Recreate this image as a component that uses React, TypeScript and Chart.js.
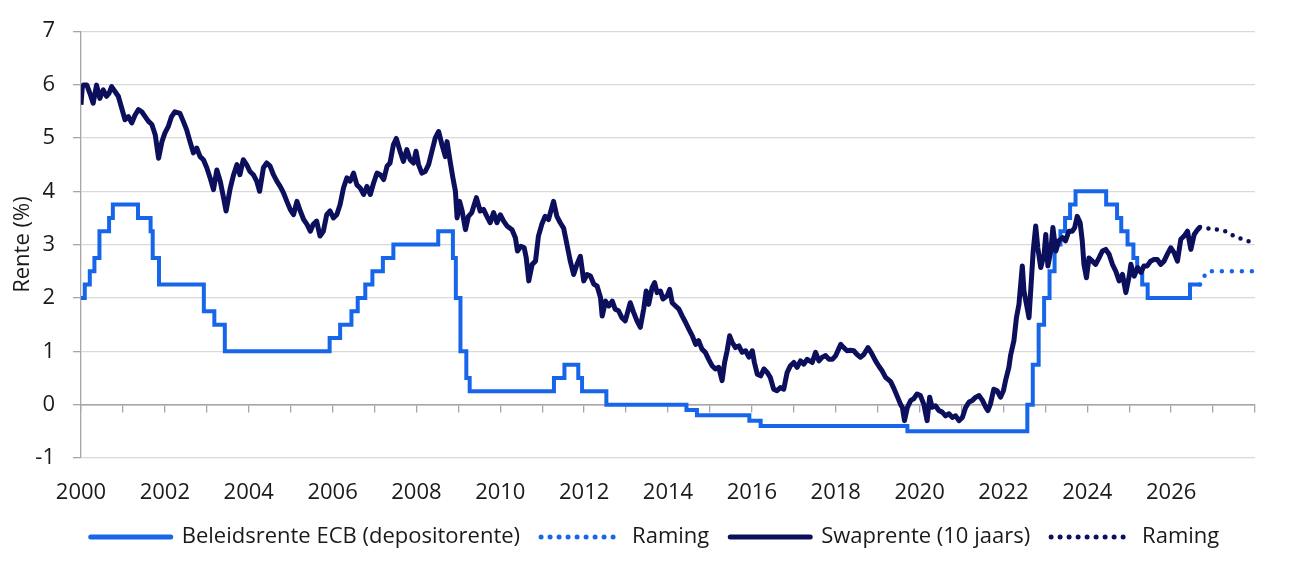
import React, { useEffect, useRef } from 'react';
import { Chart, registerables } from 'chart.js';

Chart.register(...registerables);

// ---------- data ----------
const xMin = 2000;
const xMax = 2028;
const yMin = -1;
const yMax = 7;
const labelYears = [2000, 2002, 2004, 2006, 2008, 2010, 2012, 2014, 2016, 2018, 2020, 2022, 2024, 2026];

// ECB deposit rate: date of change (decimal year) and new level (%)
const ecbDates = [
  2000.00, 2000.09, 2000.21, 2000.32, 2000.44, 2000.67, 2000.76, 2001.36, 2001.66, 2001.71,
  2001.86, 2002.93, 2003.18, 2003.43, 2005.93, 2006.18, 2006.45, 2006.60, 2006.78, 2006.95,
  2007.20, 2007.45, 2008.52, 2008.87, 2008.94, 2009.05, 2009.19, 2009.27, 2011.28, 2011.53,
  2011.86, 2011.95, 2012.53, 2014.44, 2014.69, 2015.94, 2016.21, 2019.71, 2022.57, 2022.70,
  2022.84, 2022.97, 2023.10, 2023.22, 2023.36, 2023.47, 2023.59, 2023.72, 2024.45, 2024.71,
  2024.81, 2024.96, 2025.10, 2025.19, 2025.31, 2025.44, 2026.45, 2026.69,
];
const ecbRates = [
  2.00, 2.25, 2.50, 2.75, 3.25, 3.50, 3.75, 3.50, 3.25, 2.75,
  2.25, 1.75, 1.50, 1.00, 1.25, 1.50, 1.75, 2.00, 2.25, 2.50,
  2.75, 3.00, 3.25, 2.75, 2.00, 1.00, 0.50, 0.25, 0.50, 0.75,
  0.50, 0.25, 0.00, -0.10, -0.20, -0.30, -0.40, -0.50, 0.00, 0.75,
  1.50, 2.00, 2.50, 3.00, 3.25, 3.50, 3.75, 4.00, 3.75, 3.50,
  3.25, 3.00, 2.75, 2.50, 2.25, 2.00, 2.25, 2.25,
];
const ecbForecastDates = [2026.69, 2026.85, 2028.0];
const ecbForecastRates = [2.25, 2.5, 2.5];

// 10-year swap rate (%)
const swapDates = [
  2000.00, 2000.03, 2000.06, 2000.14, 2000.21, 2000.29, 2000.37, 2000.45, 2000.53, 2000.61,
  2000.67, 2000.73, 2000.81, 2000.89, 2000.97, 2001.05, 2001.13, 2001.21, 2001.29, 2001.37,
  2001.45, 2001.53, 2001.61, 2001.69, 2001.77, 2001.85, 2001.93, 2002.00, 2002.08, 2002.16,
  2002.24, 2002.36, 2002.44, 2002.52, 2002.60, 2002.68, 2002.76, 2002.84, 2002.92, 2003.00,
  2003.08, 2003.16, 2003.24, 2003.32, 2003.40, 2003.46, 2003.56, 2003.64, 2003.72, 2003.79,
  2003.87, 2003.95, 2004.03, 2004.11, 2004.19, 2004.26, 2004.35, 2004.43, 2004.51, 2004.59,
  2004.67, 2004.75, 2004.83, 2004.91, 2004.99, 2005.07, 2005.15, 2005.23, 2005.31, 2005.39,
  2005.47, 2005.54, 2005.62, 2005.70, 2005.78, 2005.86, 2005.94, 2006.02, 2006.10, 2006.18,
  2006.26, 2006.34, 2006.42, 2006.50, 2006.58, 2006.66, 2006.74, 2006.82, 2006.90, 2006.98,
  2007.06, 2007.14, 2007.22, 2007.30, 2007.37, 2007.45, 2007.52, 2007.61, 2007.69, 2007.77,
  2007.85, 2007.93, 2007.99, 2008.05, 2008.13, 2008.21, 2008.29, 2008.37, 2008.45, 2008.53,
  2008.61, 2008.69, 2008.73, 2008.81, 2008.87, 2008.93, 2008.97, 2009.03, 2009.09, 2009.17,
  2009.24, 2009.32, 2009.43, 2009.52, 2009.60, 2009.68, 2009.76, 2009.84, 2009.92, 2010.00,
  2010.08, 2010.16, 2010.28, 2010.36, 2010.41, 2010.49, 2010.57, 2010.62, 2010.68, 2010.76,
  2010.84, 2010.91, 2010.99, 2011.07, 2011.15, 2011.27, 2011.35, 2011.43, 2011.51, 2011.59,
  2011.67, 2011.75, 2011.83, 2011.91, 2011.99, 2012.07, 2012.15, 2012.23, 2012.31, 2012.39,
  2012.43, 2012.51, 2012.59, 2012.67, 2012.74, 2012.82, 2012.90, 2012.98, 2013.10, 2013.18,
  2013.26, 2013.34, 2013.42, 2013.48, 2013.54, 2013.62, 2013.68, 2013.74, 2013.82, 2013.88,
  2013.98, 2014.04, 2014.10, 2014.18, 2014.26, 2014.34, 2014.42, 2014.50, 2014.58, 2014.66,
  2014.73, 2014.81, 2014.89, 2014.97, 2015.05, 2015.13, 2015.21, 2015.29, 2015.35, 2015.41,
  2015.47, 2015.53, 2015.61, 2015.69, 2015.77, 2015.85, 2015.93, 2016.01, 2016.06, 2016.13,
  2016.21, 2016.29, 2016.37, 2016.44, 2016.52, 2016.60, 2016.68, 2016.76, 2016.84, 2016.92,
  2017.00, 2017.08, 2017.16, 2017.24, 2017.32, 2017.44, 2017.52, 2017.60, 2017.68, 2017.76,
  2017.84, 2017.92, 2018.00, 2018.12, 2018.19, 2018.27, 2018.35, 2018.43, 2018.51, 2018.59,
  2018.67, 2018.77, 2018.85, 2018.95, 2019.03, 2019.11, 2019.19, 2019.31, 2019.39, 2019.47,
  2019.55, 2019.59, 2019.64, 2019.71, 2019.79, 2019.86, 2019.94, 2020.02, 2020.10, 2020.18,
  2020.24, 2020.30, 2020.38, 2020.46, 2020.54, 2020.62, 2020.70, 2020.78, 2020.86, 2020.94,
  2021.02, 2021.10, 2021.18, 2021.26, 2021.34, 2021.42, 2021.50, 2021.58, 2021.63, 2021.69,
  2021.77, 2021.85, 2021.93, 2022.00, 2022.05, 2022.13, 2022.17, 2022.25, 2022.31, 2022.37,
  2022.45, 2022.49, 2022.55, 2022.61, 2022.65, 2022.71, 2022.77, 2022.82, 2022.89, 2022.97,
  2023.01, 2023.06, 2023.13, 2023.18, 2023.25, 2023.32, 2023.41, 2023.48, 2023.56, 2023.64,
  2023.70, 2023.76, 2023.83, 2023.88, 2023.92, 2023.98, 2024.04, 2024.12, 2024.20, 2024.28,
  2024.36, 2024.44, 2024.52, 2024.60, 2024.68, 2024.76, 2024.84, 2024.92, 2025.00, 2025.04,
  2025.12, 2025.20, 2025.28, 2025.35, 2025.43, 2025.51, 2025.59, 2025.67, 2025.75, 2025.83,
  2025.91, 2025.99, 2026.07, 2026.15, 2026.23, 2026.31, 2026.39, 2026.47, 2026.55, 2026.63,
  2026.69,
];
const swapRates = [
  5.62, 5.95, 5.99, 5.99, 5.84, 5.65, 5.99, 5.74, 5.90, 5.78,
  5.84, 5.96, 5.87, 5.78, 5.56, 5.34, 5.40, 5.28, 5.43, 5.53,
  5.49, 5.40, 5.31, 5.25, 5.06, 4.62, 4.93, 5.09, 5.21, 5.40,
  5.49, 5.46, 5.31, 5.15, 4.93, 4.72, 4.81, 4.65, 4.59, 4.44,
  4.25, 4.03, 4.40, 4.19, 3.88, 3.63, 4.06, 4.31, 4.50, 4.31,
  4.59, 4.50, 4.37, 4.31, 4.19, 4.00, 4.44, 4.53, 4.47, 4.31,
  4.19, 4.09, 3.97, 3.81, 3.66, 3.56, 3.81, 3.63, 3.47, 3.38,
  3.25, 3.38, 3.44, 3.16, 3.25, 3.56, 3.63, 3.50, 3.56, 3.75,
  4.06, 4.25, 4.19, 4.34, 4.12, 4.06, 3.94, 4.09, 3.94, 4.16,
  4.34, 4.31, 4.22, 4.47, 4.53, 4.87, 4.99, 4.75, 4.56, 4.78,
  4.59, 4.53, 4.75, 4.50, 4.34, 4.37, 4.50, 4.75, 5.00, 5.12,
  4.87, 4.65, 4.93, 4.53, 4.25, 4.00, 3.50, 3.81, 3.63, 3.28,
  3.53, 3.60, 3.88, 3.63, 3.66, 3.53, 3.41, 3.60, 3.41, 3.56,
  3.44, 3.35, 3.28, 3.13, 2.88, 2.97, 2.94, 2.75, 2.32, 2.63,
  2.69, 3.16, 3.38, 3.53, 3.47, 3.81, 3.53, 3.41, 3.31, 3.00,
  2.69, 2.44, 2.63, 2.78, 2.32, 2.44, 2.41, 2.26, 2.22, 2.01,
  1.66, 1.94, 1.85, 1.94, 1.79, 1.76, 1.63, 1.57, 1.91, 1.73,
  1.57, 1.45, 1.79, 2.13, 1.88, 2.19, 2.29, 2.10, 2.13, 1.98,
  2.04, 2.16, 1.91, 1.85, 1.79, 1.66, 1.54, 1.41, 1.29, 1.13,
  1.20, 1.04, 0.98, 0.85, 0.73, 0.67, 0.70, 0.45, 0.79, 1.01,
  1.29, 1.17, 1.07, 1.10, 0.98, 1.01, 0.89, 1.01, 0.79, 0.57,
  0.54, 0.67, 0.60, 0.51, 0.29, 0.26, 0.32, 0.29, 0.60, 0.73,
  0.79, 0.70, 0.82, 0.76, 0.85, 0.79, 0.98, 0.82, 0.89, 0.92,
  0.85, 0.85, 0.92, 1.13, 1.07, 1.01, 1.02, 1.01, 0.94, 0.89,
  0.94, 1.07, 0.97, 0.82, 0.72, 0.63, 0.51, 0.43, 0.30, 0.15,
  0.00, -0.05, -0.30, -0.05, 0.08, 0.11, 0.20, 0.17, 0.01, -0.30,
  0.14, -0.05, -0.02, -0.11, -0.14, -0.21, -0.17, -0.24, -0.21, -0.30,
  -0.24, -0.05, 0.05, 0.08, 0.14, 0.17, 0.08, -0.05, -0.11, 0.01,
  0.29, 0.26, 0.14, 0.26, 0.45, 0.70, 0.92, 1.20, 1.63, 1.88,
  2.60, 2.13, 1.88, 1.63, 2.13, 2.88, 3.35, 2.94, 2.57, 2.82,
  3.19, 2.60, 2.88, 3.32, 2.88, 3.07, 3.13, 3.07, 3.25, 3.25,
  3.32, 3.53, 3.41, 3.07, 2.63, 2.38, 2.75, 2.69, 2.63, 2.75,
  2.88, 2.91, 2.82, 2.63, 2.50, 2.32, 2.44, 2.10, 2.41, 2.63,
  2.41, 2.57, 2.48, 2.60, 2.60, 2.69, 2.72, 2.72, 2.63, 2.69,
  2.82, 2.94, 2.85, 2.69, 3.10, 3.16, 3.25, 2.91, 3.19, 3.28,
  3.33,
];
const swapForecastDates = [2026.69, 2026.91, 2027.10, 2027.30, 2027.50, 2027.70, 2027.90, 2028.0];
const swapForecastRates = [3.33, 3.30, 3.28, 3.25, 3.16, 3.10, 3.05, 3.03];

const legendTexts = ['Beleidsrente ECB (depositorente)', 'Raming', 'Swaprente (10 jaars)', 'Raming'];
const yTitle = 'Rente (%)';

// ---------- styles ----------
const BLUE = '#1766ea';
const NAVY = '#0b0f5c';
const TEXT = '#1a1a1a';
const GRID = '#d9d9d9';
const AXIS = '#a6a6a6';
const FONT = "'Open Sans', 'Noto Sans', sans-serif";
const FONT_SIZE = 22;

const toPoints = (xs: number[], ys: number[]) => xs.map((x, i) => ({ x, y: ys[i] }));

export default function App() {
  const canvasRef = useRef<HTMLCanvasElement | null>(null);

  useEffect(() => {
    if (!canvasRef.current) return;
    Chart.defaults.font.family = FONT;
    const legendColors = [BLUE, BLUE, NAVY, NAVY];
    const legendDashes: number[][] = [[], [0, 9], [], [0, 9]];

    const chart = new Chart(canvasRef.current, {
      type: 'line',
      data: {
        datasets: [
          {
            label: legendTexts[2],
            data: toPoints(swapDates, swapRates),
            borderColor: NAVY,
            borderWidth: 5,
            pointRadius: 0,
            borderJoinStyle: 'round',
            tension: 0,
            order: 0,
          },
          {
            label: legendTexts[3],
            data: toPoints(swapForecastDates, swapForecastRates),
            borderColor: NAVY,
            borderWidth: 4.5,
            borderDash: [0, 8.5],
            borderCapStyle: 'round',
            pointRadius: 0,
            order: 1,
          },
          {
            label: legendTexts[0],
            data: toPoints(ecbDates, ecbRates),
            borderColor: BLUE,
            borderWidth: 4,
            stepped: 'before',
            pointRadius: 0,
            borderJoinStyle: 'miter',
            order: 2,
          },
          {
            label: legendTexts[1],
            data: toPoints(ecbForecastDates, ecbForecastRates),
            borderColor: BLUE,
            borderWidth: 4.5,
            borderDash: [0, 10],
            borderCapStyle: 'round',
            pointRadius: 0,
            order: 3,
          },
        ],
      },
      options: {
        animation: false,
        responsive: true,
        maintainAspectRatio: false,
        layout: { padding: { top: 30, right: 0, bottom: 8, left: 10 } },
        plugins: {
          tooltip: { enabled: false },
          legend: {
            position: 'bottom',
            labels: {
              usePointStyle: true,
              pointStyleWidth: 80,
              padding: 21,
              color: TEXT,
              font: { size: FONT_SIZE, family: FONT },
              generateLabels: () =>
                legendTexts.map((text, i) => ({
                  text,
                  fillStyle: 'rgba(0,0,0,0)',
                  strokeStyle: legendColors[i],
                  lineWidth: 5,
                  lineDash: legendDashes[i],
                  lineCap: 'round',
                  pointStyle: 'line',
                  hidden: false,
                  datasetIndex: i,
                  fontColor: TEXT,
                })) as any,
            },
          },
        },
        scales: {
          x: {
            type: 'linear',
            position: 'bottom',
            min: xMin,
            max: xMax,
            afterBuildTicks: (scale: any) => {
              scale.ticks = [...labelYears, xMax].map((v) => ({ value: v }));
            },
            ticks: {
              autoSkip: false,
              maxRotation: 0,
              minRotation: 0,
              padding: 22,
              color: TEXT,
              font: { size: FONT_SIZE, family: FONT },
              callback: (v: any) => (labelYears.includes(Number(v)) ? String(v) : ''),
            },
            grid: { display: false, drawTicks: false },
            border: { display: false },
            afterFit: (scale: any) => {
              scale.height = 47;
            },
          },
          x2: {
            type: 'linear',
            axis: 'x',
            position: { y: 0 } as any,
            min: xMin,
            max: xMax,
            ticks: { stepSize: 1, display: false, autoSkip: false },
            grid: { drawOnChartArea: false, drawTicks: true, tickLength: 7, color: AXIS, lineWidth: 1.3 },
            border: { display: true, color: AXIS, width: 1.5 },
          },
          y: {
            type: 'linear',
            position: 'left',
            min: yMin,
            max: yMax,
            ticks: {
              stepSize: 1,
              padding: 18,
              color: TEXT,
              font: { size: FONT_SIZE, family: FONT },
            },
            grid: {
              color: (ctx: any) => (ctx.tick && ctx.tick.value === 0 ? AXIS : GRID),
              lineWidth: 1.3,
              tickLength: 8,
              tickColor: AXIS,
            },
            border: { display: true, color: AXIS, width: 1.3 },
            title: {
              display: true,
              text: yTitle,
              color: TEXT,
              font: { size: FONT_SIZE, family: FONT },
              padding: { top: 0, bottom: 0 },
            },
            afterFit: (scale: any) => {
              scale.width = 71;
            },
          },
          yRight: {
            type: 'linear',
            position: 'right',
            display: true,
            min: yMin,
            max: yMax,
            ticks: { display: false },
            grid: { display: false, drawTicks: false },
            border: { display: false },
            afterFit: (scale: any) => {
              scale.width = 45;
            },
          },
        },
      },
    });
    return () => chart.destroy();
  }, []);

  return (
    <div style={{ position: 'fixed', left: 0, top: 0, width: 1300, height: 566, background: '#ffffff' }}>
      <canvas ref={canvasRef} />
    </div>
  );
}
